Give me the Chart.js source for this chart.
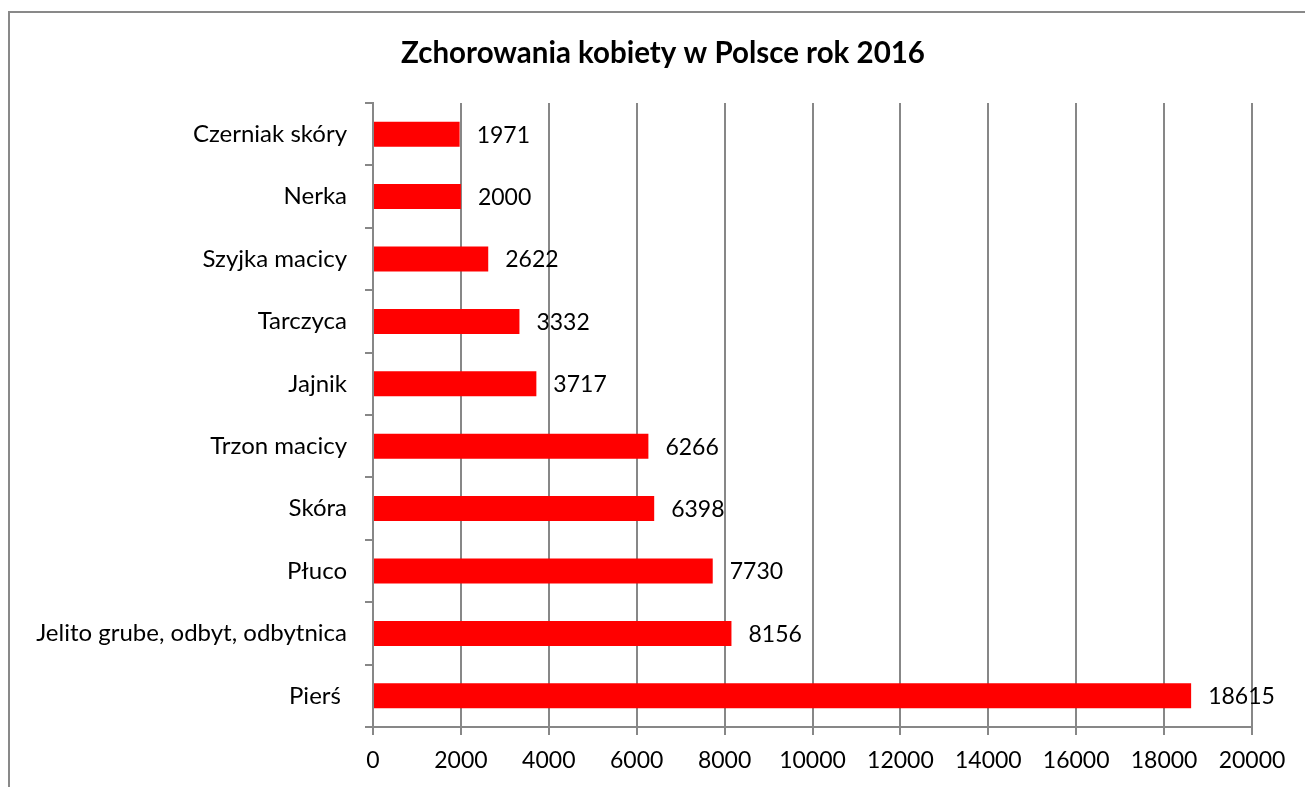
<!DOCTYPE html>
<html>
<head>
<meta charset="utf-8">
<script src="https://cdn.jsdelivr.net/npm/chart.js@4/dist/chart.umd.min.js"></script>
<style>
  html, body { margin: 0; padding: 0; background: #fff; overflow: hidden; width: 1305px; height: 787px; }
  #frame { position: absolute; left: 8px; top: 11px; width: 1320px; height: 800px; border: 2px solid #898989; box-sizing: border-box; }
  #c { position: absolute; left: 0; top: 0; }
</style>
</head>
<body>
<div id="frame"></div>
<canvas id="c" width="1305" height="787"></canvas>
<script>
const chartTitle = "Zchorowania kobiety w Polsce rok 2016";
const categories = ["Czerniak skóry", "Nerka", "Szyjka macicy", "Tarczyca", "Jajnik", "Trzon macicy", "Skóra", "Płuco", "Jelito grube, odbyt, odbytnica", "Pierś "];
const cases = [1971, 2000, 2622, 3332, 3717, 6266, 6398, 7730, 8156, 18615];
const xTicks = [0, 2000, 4000, 6000, 8000, 10000, 12000, 14000, 16000, 18000, 20000];

const FONT = "Lato, 'Open Sans', sans-serif";
const gridColor = "#878787";

const valueLabels = {
  id: 'valueLabels',
  afterDatasetsDraw(chart) {
    const ctx = chart.ctx;
    const meta = chart.getDatasetMeta(0);
    ctx.save();
    ctx.font = "23px " + FONT;
    ctx.fillStyle = "#000";
    ctx.textAlign = "left";
    ctx.textBaseline = "middle";
    meta.data.forEach((bar, i) => {
      ctx.fillText(String(chart.data.datasets[0].data[i]), bar.x + 17, bar.y + 1);
    });
    ctx.restore();
  }
};

const titleText = {
  id: 'titleText',
  afterDraw(chart) {
    const ctx = chart.ctx;
    ctx.save();
    ctx.font = "bold 29.5px " + FONT;
    ctx.fillStyle = "#000";
    ctx.textAlign = "center";
    ctx.textBaseline = "middle";
    ctx.fillText(chartTitle, 663, 53);
    ctx.restore();
  }
};

new Chart(document.getElementById('c'), {
  type: 'bar',
  data: {
    labels: categories,
    datasets: [{
      data: cases,
      backgroundColor: "#ff0000",
      borderWidth: 0,
      barPercentage: 0.4,
      categoryPercentage: 1.0
    }]
  },
  options: {
    indexAxis: 'y',
    responsive: false,
    animation: false,
    devicePixelRatio: 1,
    layout: { padding: { left: 0, right: 53, top: 103, bottom: 0 } },
    plugins: {
      legend: { display: false },
      tooltip: { enabled: false },
      title: { display: false }
    },
    scales: {
      x: {
        min: 0, max: 20000,
        afterBuildTicks(scale) { scale.ticks = xTicks.map(v => ({ value: v })); },
        afterFit(scale) { scale.height = 60; },
        grid: { color: gridColor, lineWidth: 2, tickLength: 8, drawOnChartArea: true },
        border: { color: gridColor, width: 2 },
        ticks: { color: "#000", font: { family: FONT, size: 23 }, padding: 12, maxRotation: 0,
                 callback: (v) => String(v) }
      },
      y: {
        afterFit(scale) { scale.width = 373; },
        grid: { color: gridColor, lineWidth: 2, tickLength: 8, drawOnChartArea: false, offset: true },
        border: { color: gridColor, width: 2 },
        ticks: { color: "#000", font: { family: FONT, size: 24 }, padding: 18 }
      }
    }
  },
  plugins: [valueLabels, titleText]
});
</script>
</body>
</html>
